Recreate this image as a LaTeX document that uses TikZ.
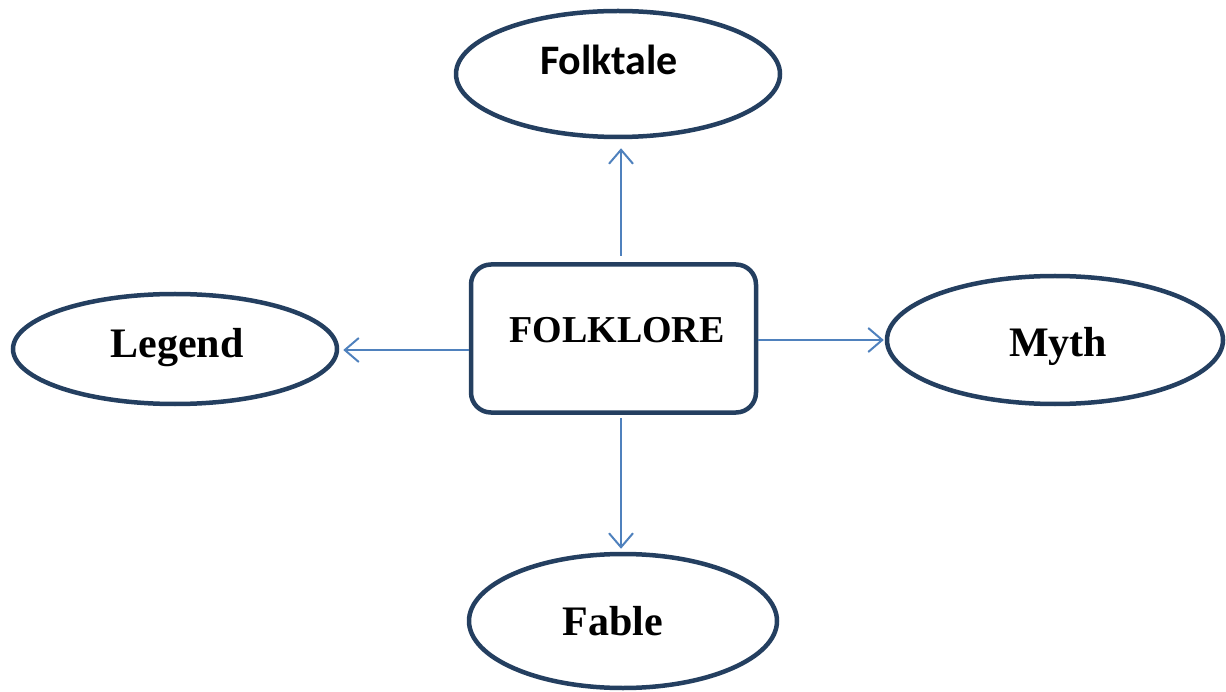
\documentclass[tikz,border=0pt]{standalone}
\usepackage{fontspec}
\setmainfont{Liberation Serif}
\newfontfamily\calibrifont{Carlito}
\usetikzlibrary{shapes.geometric,arrows.meta}
\definecolor{edgeblue}{HTML}{243F60}
\definecolor{arrblue}{HTML}{4F81BD}
\begin{document}
\begin{tikzpicture}[x=1pt,y=-1pt,
  ell/.style={ellipse,draw=edgeblue,line width=4.5pt,fill=white,inner sep=0pt},
  boxnode/.style={rectangle,rounded corners=20pt,draw=edgeblue,line width=4.5pt,fill=white,inner sep=0pt,minimum width=285pt,minimum height=148pt},
  lbl/.style={anchor=base,inner sep=0pt,font=\bfseries\fontsize{42}{48}\selectfont},
  arr/.style={draw=arrblue,line width=2pt,-{Straight Barb[length=14pt,width=24pt,line width=2pt]}}
]
\useasboundingbox (0,0) rectangle (1226,692);
\node[ell,minimum width=324pt,minimum height=126pt] (folk) at (618,74) {};
\node[ell,minimum width=324pt,minimum height=110pt] (leg) at (175,349) {};
\node[ell,minimum width=336pt,minimum height=128pt] (myth) at (1055,340) {};
\node[ell,minimum width=308pt,minimum height=134pt] (fab) at (623,621) {};
\node[boxnode] (box) at (613.5,338.5) {};
\node[lbl,font=\calibrifont\bfseries\fontsize{42}{48}\selectfont] (folkT) at (609,75) {Folktale};
\node[lbl] (legT) at (177,358) {Legend};
\node[lbl,font=\bfseries\fontsize{38}{44}\selectfont] (boxT) at (617,343) {FOLKLORE};
\node[lbl] (mythT) at (1058,357) {Myth};
\node[lbl] (fabT) at (613,635) {Fable};
\draw[arr] ([xshift=7.5pt,yshift=6.5pt]box.north) -- ([xshift=3pt,yshift=-9pt]folk.south);
\draw[arr] ([yshift=-11.5pt]box.west) -- ([xshift=4pt,yshift=-1pt]leg.east);
\draw[arr] ([yshift=-1.5pt]box.east) -- ([xshift=-1pt]myth.west);
\draw[arr] ([xshift=7.5pt,yshift=-3.5pt]box.south) -- ([xshift=-2pt,yshift=3pt]fab.north);
\end{tikzpicture}
\end{document}
